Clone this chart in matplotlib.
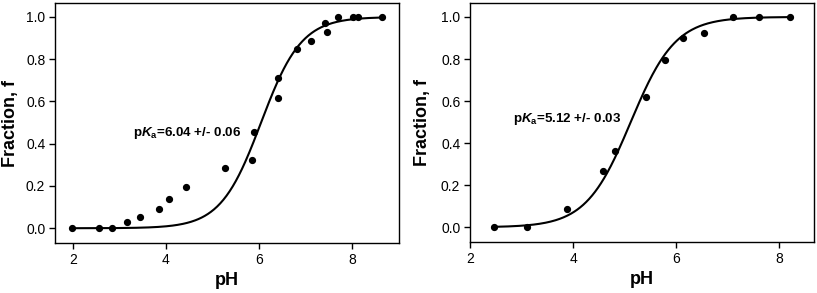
import numpy as np
import matplotlib
matplotlib.use("Agg")
from matplotlib import pyplot as plt

plt.rcParams['font.family'] = ['Liberation Sans', 'DejaVu Sans']
plt.rcParams['mathtext.fontset'] = 'custom'
plt.rcParams['mathtext.rm'] = 'Liberation Sans:bold'
plt.rcParams['mathtext.it'] = 'Liberation Sans:italic:bold'

# left panel data
ph_left = [1.98, 2.56, 2.85, 3.16, 3.45, 3.85, 4.07, 4.44, 5.26, 5.85, 5.89,
           6.40, 6.41, 6.81, 7.12, 7.42, 7.45, 7.70, 8.01, 8.11, 8.64]
frac_left = [0.0, 0.0, 0.0, 0.028, 0.052, 0.091, 0.139, 0.194, 0.285, 0.321, 0.454,
             0.616, 0.709, 0.849, 0.885, 0.972, 0.929, 1.0, 1.0, 1.0, 1.0]
pka_left = 6.04
label_left = r"p$K_\mathrm{a}$=6.04 +/- 0.06"

# right panel data
ph_right = [2.47, 3.10, 3.88, 4.58, 4.82, 5.42, 5.79, 6.14, 6.55, 7.11, 7.62, 8.21]
frac_right = [0.0, 0.0, 0.085, 0.268, 0.363, 0.618, 0.797, 0.902, 0.923, 1.0, 1.0, 1.0]
pka_right = 5.12
label_right = r"p$K_\mathrm{a}$=5.12 +/- 0.03"

xticks = [2, 4, 6, 8]
yticks = [0.0, 0.2, 0.4, 0.6, 0.8, 1.0]


def hh(ph, pka):
    # fitted Henderson-Hasselbalch curve
    return 1.0 / (1.0 + 10 ** (pka - ph))


fig = plt.figure(figsize=(8.17, 2.93), dpi=100)
ax1 = fig.add_axes([0.0673, 0.1706, 0.4211, 0.819])
ax2 = fig.add_axes([0.5753, 0.1740, 0.4211, 0.8156])

panels = [
    (ax1, ph_left, frac_left, pka_left, label_left, (1.62, 9.0), (3.29, 0.452), 5),
    (ax2, ph_right, frac_right, pka_right, label_right, (2.0, 8.68), (2.84, 0.516), 7),
]

for ax, xs, ys, pka, label, xlim, txt, lpad in panels:
    xf = np.linspace(min(xs), max(xs), 300)
    ax.plot(xf, hh(xf, pka), color='black', lw=1.5)
    ax.plot(xs, ys, 'o', color='black', ms=4.2)
    ax.set_xlim(*xlim)
    ax.set_ylim(-0.07, 1.066)
    ax.set_xticks(xticks)
    ax.set_yticks(yticks)
    ax.set_yticklabels([f"{v:.1f}" for v in yticks])
    ax.tick_params(direction='out', length=4, width=1, labelsize=10, pad=3)
    for s in ax.spines.values():
        s.set_linewidth(1.0)
    ax.set_xlabel('pH', fontsize=13, fontweight='bold', labelpad=4)
    ax.set_ylabel('Fraction, f', fontsize=13, fontweight='bold', labelpad=lpad)
    ax.text(txt[0], txt[1], label, fontsize=9.6, fontweight='bold', va='center', ha='left')

plt.savefig('out.png', dpi=100)
